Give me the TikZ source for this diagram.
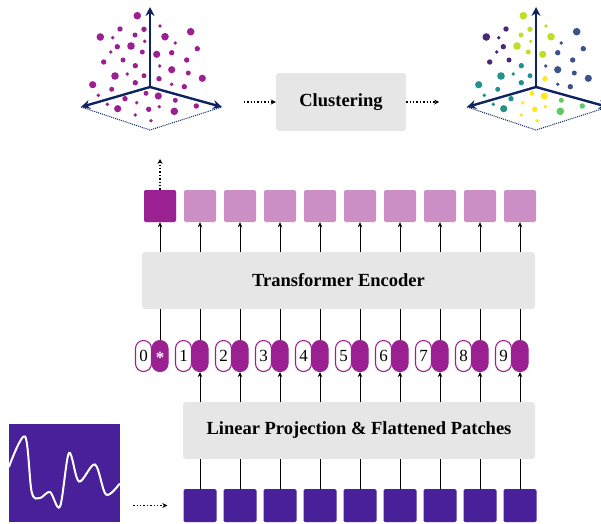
\documentclass[tikz,border=0pt]{standalone}
\usepackage{fontspec}
\setmainfont{Liberation Serif}
\usetikzlibrary{arrows.meta,positioning,calc}

\definecolor{patchpurple}{RGB}{72,32,154}
\definecolor{tokenpurple}{RGB}{155,33,146}
\definecolor{outlight}{RGB}{203,143,198}
\definecolor{boxgray}{RGB}{230,230,230}
\definecolor{axisblue}{RGB}{12,36,97}
% cluster colours
\definecolor{vP}{RGB}{72,40,120}
\definecolor{vT}{RGB}{33,145,140}
\definecolor{vN}{RGB}{59,82,139}
\definecolor{vG}{RGB}{94,201,98}
\definecolor{vL}{RGB}{189,223,38}
\definecolor{vY}{RGB}{253,231,37}

\tikzset{
  block/.style={fill=boxgray, rounded corners=3pt, inner sep=0pt,
    font=\fontsize{18.5}{20}\selectfont\bfseries},
  patchbox/.style={fill=patchpurple, minimum size=33pt, inner sep=0pt, rounded corners=1.5pt},
  outbox/.style={fill=outlight, minimum size=32pt, inner sep=0pt, rounded corners=2pt},
  pillopen/.style={draw=tokenpurple, line width=1.1pt, fill=white, minimum width=16pt,
    minimum height=31pt, rounded corners=8pt, inner sep=0pt, font=\fontsize{17}{17}\selectfont},
  pillfill/.style={pillopen, fill=tokenpurple, text=white},
  link/.style={line width=0.8pt},
  uparrow/.style={link, -{Stealth[length=5pt,width=4.5pt]}},
  dotarrow/.style={line width=1.4pt, dotted, -{Stealth[length=5pt,width=5pt]}},
  axis/.style={axisblue, line width=2.4pt, -{Stealth[length=9pt,width=9pt]}},
}

\begin{document}
\begin{tikzpicture}[x=1pt, y=-1pt]
  \clip (0,0) rectangle (601,523);

  % input signal
  \node[fill=patchpurple, minimum width=111pt, minimum height=98pt, inner sep=0pt] (sig) at (64.5,473) {};
  \draw[white, line width=2pt, line cap=round] plot[smooth, tension=0.55] coordinates {
    (9,466.7) (25,436.5) (31.7,492) (40,498) (50,492) (60,506.5) (69,453) (79,481.5)
    (95,464.5) (106,494.5) (119.3,484)};

  % patches and linear projection
  \node[block, minimum width=352pt, minimum height=57pt] (lin) at (359,430.5) {Linear Projection \& Flattened Patches};
  \foreach \i in {1,...,9} {
    \node[patchbox] (p\i) at ({160+40*\i},505.5) {};
    \draw[link] (p\i.north) -- (p\i |- lin.south);
  }
  \draw[dotarrow] ([xshift=13pt]sig.east |- p1.west) -- ([xshift=-16pt]p1.west);

  % position tokens
  \node[block, minimum width=393pt, minimum height=57pt] (enc) at (338.5,280.5) {Transformer Encoder};
  \foreach \i in {0,...,9} {
    \node[pillopen] (n\i) at ({143.5+40*\i},356) {\i};
    \node[pillfill] (t\i) at ({160+40*\i},356) {};
    \draw[link] (t\i.north) -- (t\i |- enc.south);
  }
  \node[text=white, font=\fontsize{17}{17}\selectfont\bfseries] at ([yshift=-2pt]t0) {*};
  \foreach \i in {1,...,9}
    \draw[uparrow] (t\i |- lin.north) -- (t\i.south);

  % encoder outputs
  \foreach \i in {0,...,9} {
    \node[outbox] (o\i) at ({160+40*\i},206) {};
    \draw[uparrow] (o\i |- enc.north) -- (o\i.south);
  }
  \node[outbox, fill=tokenpurple] (o0) at (160,206) {};
  \coordinate (feat) at (160,159);
  \draw[dotarrow] (o0.north) -- (feat);

  % clustering
  \node[block, minimum width=130pt, minimum height=58pt] (clu) at (341,102) {Clustering};
  \draw[dotarrow] ([xshift=-32pt]clu.west) -- (clu.west);
  \draw[dotarrow] (clu.east) -- ([xshift=33pt]clu.east);

  % embeddings before / after clustering
  \foreach \dx/\y/\r/\c in {
    -12.7/15.7/3.8/vL, 10/26/1.9/vL, -30/29/2.7/vP, -6/29.3/2.7/vL,
    -49.7/37/3.8/vP, -37.3/37.7/1.9/vP, -15/35/2.5/vL, 15/36.7/3.8/vL,
    40.7/31.7/3.8/vN, -5.3/41.3/1.9/vL, -32.7/46.7/2.7/vP, -19/46/3.8/vL,
    25.3/43/1.9/vN, 47.3/48.7/2.7/vN, -39.3/52/1.9/vP, -7.7/52/2.5/vL,
    6.7/54.3/3.6/vL, 21.7/52.7/2.7/vN, 36.7/60/2.7/vN, -46.3/62/2.7/vP,
    -27/60/2.5/vP, -14.7/65.7/2.7/vT, 9.7/66/1.9/vN, 21.7/69.7/3.6/vN,
    38.3/73/2.5/vN, -35/76/3.8/vT, -22.7/74/1.9/vT, -6/75.7/2.5/vT,
    9/78.7/2.7/vY, 52.3/78.3/3.6/vN, -57.3/84.7/3.6/vT, -14.7/82.7/2.7/vT,
    21.7/84.3/1.9/vN, 34.3/86.7/2.7/vN, -38.3/89.3/2.5/vT, -4/93.3/2.5/vY,
    8.3/96/3.6/vY, -51.7/95.3/1.9/vT, -25/98.7/2.7/vT, 25.3/100.3/2.5/vG,
    -13.3/102.7/1.9/vY, -42.7/104.3/1.9/vT, 9.3/106.7/1.9/vY, -32.3/108.7/3.6/vT,
    -1.3/109.3/2.7/vY, 24.3/111.3/3.8/vG, 46.3/106/2.7/vG, -14.7/115/1.9/vY,
    1/120.7/1.9/vY} {
    \fill[tokenpurple] (150+\dx,\y) circle[radius=\r pt];
    \fill[\c] (536+\dx,\y) circle[radius=\r pt];
  }
  \foreach \ox/\nm in {150/a, 536/b} {
    \coordinate (\nm o) at (\ox,87);
    \coordinate (\nm l) at (\ox-69,107);
    \coordinate (\nm r) at (\ox+72,107);
    \coordinate (\nm d) at (\ox,130);
    \draw[axisblue, line width=1pt, densely dotted] (\nm l) -- (\nm d) -- (\nm r);
    \draw[axis] (\nm o) -- (\ox,7);
    \draw[axis] (\nm o) -- (\nm l);
    \draw[axis] (\nm o) -- (\nm r);
  }
\end{tikzpicture}
\end{document}
